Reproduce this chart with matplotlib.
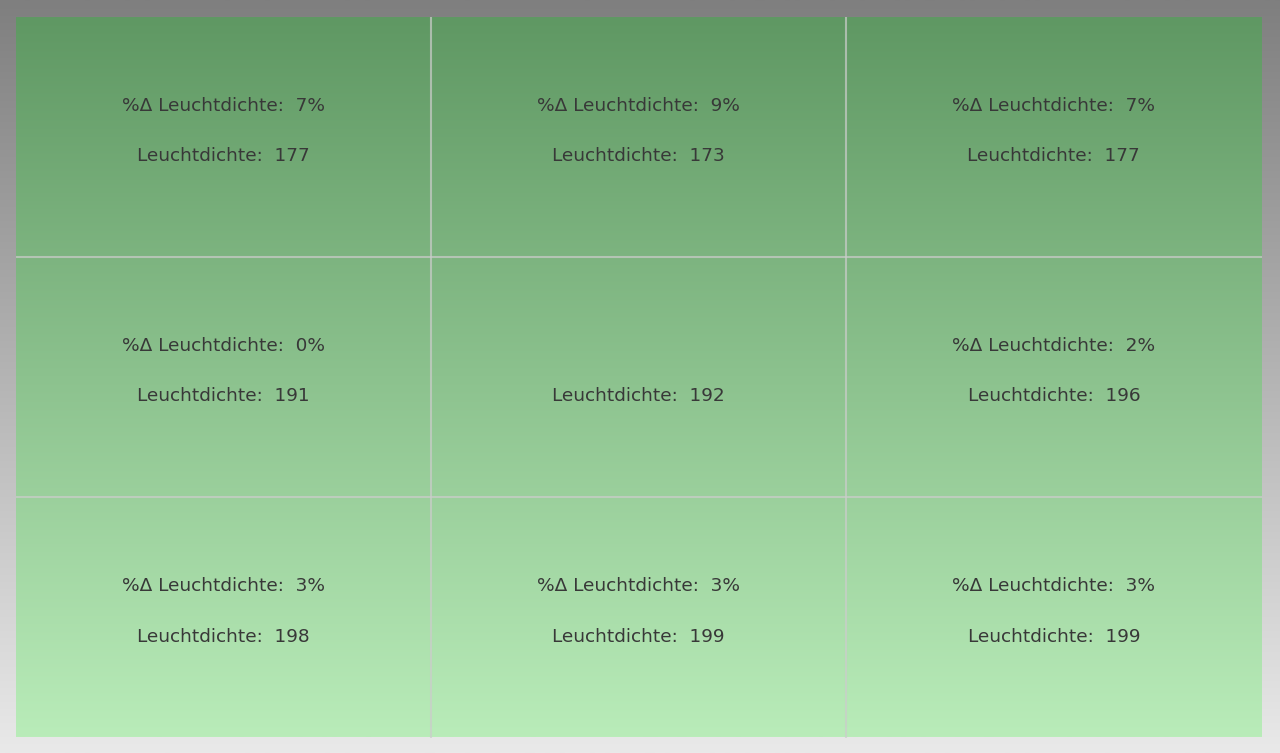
import numpy as np
import matplotlib.pyplot as plt
from matplotlib.colors import LinearSegmentedColormap

# 3x3 grid of luminance readings (row-major, top to bottom)
luminance = [177, 173, 177,
             191, 192, 196,
             198, 199, 199]
# percent deviation from the centre cell (centre has none)
pct_delta = [7, 9, 7,
             0, None, 2,
             3, 3, 3]

n_rows, n_cols = 3, 3
W, H = 1280, 753

fig = plt.figure(figsize=(W / 100, H / 100), dpi=100)

# ── grey backdrop gradient ───────────────────────────────────────────────
bg = fig.add_axes([0, 0, 1, 1])
bg.set_axis_off()
grey = LinearSegmentedColormap.from_list('grey', ['#7f7f7f', '#e9e9e9'])
bg.imshow(np.linspace(0, 1, 256).reshape(-1, 1), aspect='auto', cmap=grey,
          extent=[0, 1, 1, 0], interpolation='bilinear')
bg.set_xlim(0, 1)
bg.set_ylim(1, 0)

# ── green panel ──────────────────────────────────────────────────────────
x0, x1 = 15.5, 1261.5
y0, y1 = 17, 737.5
ax = fig.add_axes([x0 / W, 1 - y1 / H, (x1 - x0) / W, (y1 - y0) / H])
ax.set_axis_off()
green = LinearSegmentedColormap.from_list('green', ['#5f9863', '#b9ecb9'])
ax.imshow(np.linspace(0, 1, 256).reshape(-1, 1), aspect='auto', cmap=green,
          extent=[0, n_cols, n_rows, 0], interpolation='bilinear')
ax.set_xlim(0, n_cols)
ax.set_ylim(n_rows, 0)

for c in range(1, n_cols):
    ax.axvline(c, color='#cccccc', alpha=0.7, linewidth=1.5)
for r in range(1, n_rows):
    ax.axhline(r, color='#cccccc', alpha=0.7, linewidth=1.5)

for i, (lum, pct) in enumerate(zip(luminance, pct_delta)):
    r, c = divmod(i, n_cols)
    cx, cy = c + 0.5, r + 0.5
    if pct is not None:
        ax.text(cx, cy - 0.13, f'%Δ Leuchtdichte:  {pct}%', ha='center',
                va='center', fontsize=13.3, color='#383838')
    ax.text(cx, cy + 0.08, f'Leuchtdichte:  {lum}', ha='center',
            va='center', fontsize=13.3, color='#383838')

fig.savefig('out.png', dpi=100)
